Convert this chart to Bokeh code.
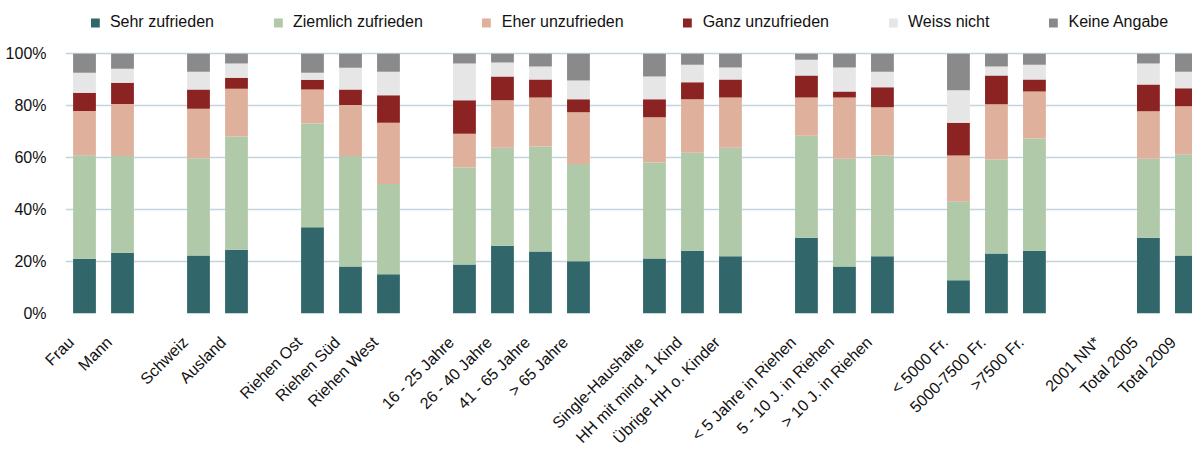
import math
from bokeh.plotting import figure
from bokeh.models import (ColumnDataSource, FixedTicker, PrintfTickFormatter,
                          Range1d, CustomJSTickFormatter)
from bokeh.embed import file_html
from bokeh.resources import INLINE

categories = ["Frau", "Mann", "", "Schweiz", "Ausland", "",
              "Riehen Ost", "Riehen Süd", "Riehen West", "",
              "16 - 25 Jahre", "26 - 40 Jahre", "41 - 65 Jahre", "> 65 Jahre", "",
              "Single-Haushalte", "HH mit mind. 1 Kind", "Übrige HH o. Kinder", "",
              "< 5 Jahre in Riehen", "5 - 10 J. in Riehen", "> 10 J. in Riehen", "",
              "< 5000 Fr.", "5000-7500 Fr.", ">7500 Fr.", "",
              "2001 NN*", "Total 2005", "Total 2009"]

series = ["Sehr zufrieden", "Ziemlich zufrieden", "Eher unzufrieden",
          "Ganz unzufrieden", "Weiss nicht", "Keine Angabe"]

sehr_zufrieden = [21.1, 23.4, 0, 22.3, 24.5, 0, 33.2, 18.1, 15.1, 0,
                  18.9, 26.1, 23.9, 20.1, 0, 21.2, 24.2, 22.0, 0,
                  29.2, 18.1, 22.0, 0, 12.8, 23.1, 24.2, 0, 0, 29.2, 22.3]
ziemlich_zufrieden = [39.8, 37.2, 0, 37.5, 43.6, 0, 39.9, 42.5, 34.8, 0,
                      37.3, 37.7, 40.4, 37.5, 0, 36.9, 37.7, 41.8, 0,
                      39.2, 41.5, 38.8, 0, 30.2, 36.2, 43.2, 0, 0, 30.4, 39.0]
eher_unzufrieden = [17.1, 20.1, 0, 19.0, 18.4, 0, 13.1, 19.7, 23.5, 0,
                    13.0, 18.3, 18.9, 19.9, 0, 17.5, 20.6, 19.4, 0,
                    14.8, 23.6, 18.6, 0, 17.8, 21.3, 18.1, 0, 0, 18.3, 18.5]
ganz_unzufrieden = [7.0, 8.1, 0, 7.4, 4.3, 0, 3.8, 5.9, 10.6, 0,
                    12.9, 9.1, 6.9, 5.0, 0, 6.9, 6.5, 6.9, 0,
                    8.4, 2.3, 7.7, 0, 12.6, 11.0, 4.6, 0, 0, 10.3, 6.9]
weiss_nicht = [7.7, 5.4, 0, 6.9, 5.4, 0, 2.7, 8.4, 9.1, 0,
               14.1, 5.4, 5.0, 7.2, 0, 8.7, 6.8, 4.6, 0,
               6.1, 9.2, 6.0, 0, 12.5, 3.5, 5.7, 0, 0, 8.0, 6.4]
keine_angabe = [7.3, 5.8, 0, 6.9, 3.8, 0, 7.3, 5.4, 6.9, 0,
                3.8, 3.4, 4.9, 10.3, 0, 8.8, 4.2, 5.3, 0,
                2.3, 5.3, 6.9, 0, 14.1, 4.9, 4.2, 0, 0, 3.8, 6.9]

y_ticks = [0, 20, 40, 60, 80, 100]

colors = ["#31666b", "#afc9a9", "#dfb09c", "#8b2323", "#e6e6e6", "#8a8a8a"]

values = [sehr_zufrieden, ziemlich_zufrieden, eher_unzufrieden,
          ganz_unzufrieden, weiss_nicht, keine_angabe]
xs = list(range(len(categories)))
data = {"x": xs}
for name, vals in zip(series, values):
    data[name] = vals
src = ColumnDataSource(data)

FONT = "Liberation Sans"
LABEL_SHIFT = 0.35  # horizontal offset of the slanted category labels

p = figure(width=1192, height=455,
           x_range=Range1d(-0.5, 29.16), y_range=Range1d(0, 120.5),
           output_backend="svg", toolbar_location=None,
           min_border_left=65, min_border_right=0,
           min_border_top=0, min_border_bottom=138)

p.vbar_stack(series, x="x", width=0.6, source=src, color=colors,
             line_color=None, legend_label=series)

p.outline_line_color = None
p.xgrid.grid_line_color = None
p.ygrid.ticker = FixedTicker(ticks=y_ticks)
p.ygrid.grid_line_color = "#c2d5de"
p.ygrid.grid_line_width = 1.6

yax = p.yaxis[0]
yax.ticker = FixedTicker(ticks=y_ticks)
yax.formatter = PrintfTickFormatter(format="%d%%")
yax.axis_line_color = None
yax.major_tick_line_color = None
yax.minor_tick_line_color = None
yax.major_label_text_font = FONT
yax.major_label_text_font_size = "16px"
yax.major_label_text_color = "#111111"
yax.major_label_standoff = 13

xax = p.xaxis[0]
label_ticks = [i - LABEL_SHIFT for i, c in enumerate(categories) if c]
xax.ticker = FixedTicker(ticks=label_ticks)
xax.formatter = CustomJSTickFormatter(
    args=dict(labels=categories, shift=LABEL_SHIFT),
    code="const i = Math.round(tick + shift); return labels[i] || '';")
xax.major_label_orientation = math.pi / 4
xax.axis_line_color = None
xax.major_tick_line_color = None
xax.minor_tick_line_color = None
xax.major_label_text_font = FONT
xax.major_label_text_font_size = "16px"
xax.major_label_text_color = "#111111"
xax.major_label_standoff = 20

lg = p.legend[0]
lg.orientation = "horizontal"
lg.location = "top_center"
lg.glyph_width = 11
lg.glyph_height = 11
lg.label_standoff = 10
lg.spacing = 58
lg.padding = 0
lg.margin = 13
lg.border_line_color = None
lg.background_fill_alpha = 0
lg.label_text_font = FONT
lg.label_text_font_size = "16px"
lg.label_text_color = "#111111"

open("out.html", "w").write(file_html(p, INLINE))
